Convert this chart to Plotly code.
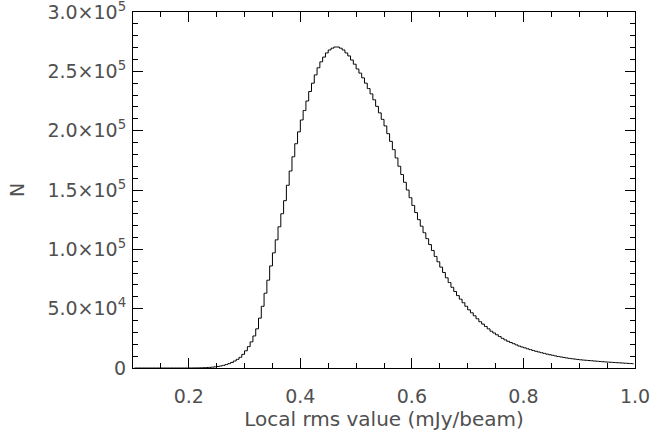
import numpy as np
import plotly.graph_objects as go

# Histogram bin left edges: 0.100 .. 0.995 (bin width 0.005)
bin_left = [round(0.1 + 0.005 * i, 3) for i in range(180)]
bin_width = 0.005

counts = [
    0, 0, 0, 0, 0, 0, 0, 0, 0, 0,
    0, 0, 0, 0, 0, 0, 0, 0, 0, 0,
    20, 40, 70, 110, 170, 250, 350, 500, 700, 950,
    1300, 1700, 2200, 2900, 3700, 4700, 5900, 7300, 9000, 11500,
    14500, 18000, 22000, 27000, 33000, 42000, 52000, 63000, 74000, 86000,
    97000, 108000, 119000, 130000, 141000, 154000, 166000, 178000, 189000, 199000,
    209000, 217000, 225000, 233000, 240000, 247000, 253000, 258000, 262000, 265500,
    268000, 269500, 270500, 270500, 269500, 268000, 265500, 263000, 259500, 256000,
    252000, 248500, 244500, 240000, 235500, 231000, 226000, 220500, 215000, 209500,
    204000, 197500, 191000, 184000, 177000, 170000, 163000, 156500, 150000, 143500,
    137000, 131000, 125000, 119500, 114000, 109000, 104000, 99000, 94000, 89500,
    85000, 80500, 76000, 72000, 68000, 64500, 61000, 58000, 55000, 52000,
    49000, 46500, 44000, 41500, 39000, 37000, 35000, 33000, 31000, 29500,
    28000, 26500, 25000, 23700, 22500, 21500, 20500, 19500, 18500, 17700,
    17000, 16200, 15500, 14800, 14100, 13500, 12900, 12300, 11700, 11200,
    10700, 10200, 9700, 9300, 8900, 8500, 8100, 7800, 7500, 7200,
    6900, 6700, 6500, 6300, 6100, 5900, 5700, 5500, 5300, 5100,
    4950, 4800, 4650, 4500, 4350, 4200, 4050, 3900, 3750, 3600,
]

y_tick_vals = [0, 50000, 100000, 150000, 200000, 250000, 300000]
y_tick_text = ["0", "5.0×10<sup>4</sup>", "1.0×10<sup>5</sup>", "1.5×10<sup>5</sup>",
               "2.0×10<sup>5</sup>", "2.5×10<sup>5</sup>", "3.0×10<sup>5</sup>"]
x_tick_vals = [0.2, 0.4, 0.6, 0.8, 1.0]
x_tick_text = ["0.2", "0.4", "0.6", "0.8", "1.0"]

centers = [b + bin_width / 2 for b in bin_left]

fig = go.Figure()
fig.add_trace(go.Scatter(
    x=centers, y=counts, mode="lines",
    line=dict(shape="hvh", color="black", width=1),
    showlegend=False, hoverinfo="skip",
))

font_color = "#505050"
fsize = 19
fig.update_layout(
    width=672, height=431,
    margin=dict(l=133, r=37, t=12, b=63),
    paper_bgcolor="white", plot_bgcolor="white",
    font=dict(family="DejaVu Sans", size=fsize, color=font_color),
)
fig.update_xaxes(
    range=[0.1, 1.0], showgrid=False, zeroline=False, automargin=False,
    showline=True, linecolor="black", linewidth=1, mirror="allticks",
    ticks="inside", ticklen=10, tickcolor="black", tickwidth=1,
    tickvals=x_tick_vals, ticktext=x_tick_text,
    minor=dict(ticks="inside", ticklen=5, dtick=0.05, tick0=0.1, tickcolor="black", showgrid=False),
    title=dict(text="Local rms value (mJy/beam)", standoff=3, font=dict(size=20, color=font_color)),
    tickfont=dict(size=fsize, color=font_color),
    ticklabelstandoff=11, ticklabeloverflow="allow",
)
fig.update_yaxes(
    range=[0, 300000], showgrid=False, zeroline=False, automargin=False,
    showline=True, linecolor="black", linewidth=1, mirror="allticks",
    ticks="inside", ticklen=10, tickcolor="black", tickwidth=1,
    tickvals=y_tick_vals, ticktext=y_tick_text,
    minor=dict(ticks="inside", ticklen=5, dtick=10000, tick0=0, tickcolor="black", showgrid=False),
    title=dict(text="N", standoff=17, font=dict(size=fsize, color=font_color)),
    tickfont=dict(size=fsize, color=font_color),
    ticklabelstandoff=2, ticklabeloverflow="allow",
)

fig.write_html("out.html", config={"displayModeBar": False},
               post_script="document.body.style.margin='0px';")
